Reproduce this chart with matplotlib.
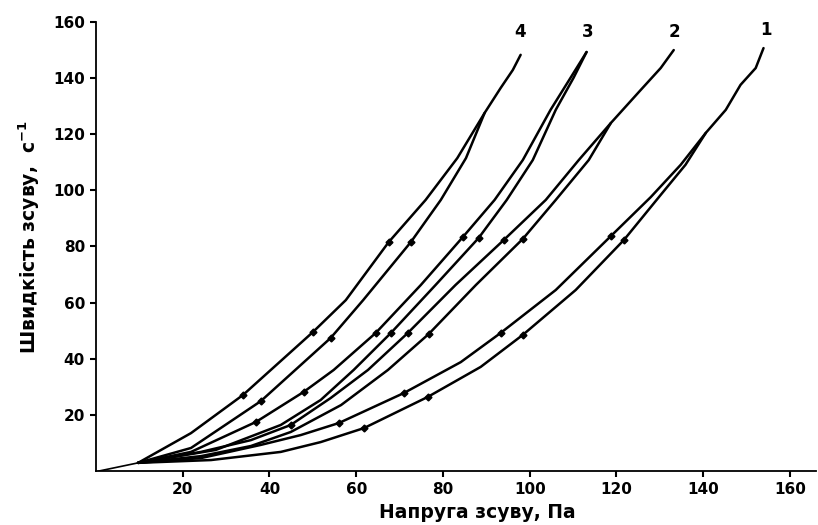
import matplotlib
matplotlib.use("Agg")
import matplotlib.pyplot as plt

plt.rcParams['font.family'] = ['DejaVu Sans']

# спільний початок усіх кривих
start_x = [0.7, 9.7]
start_y = [0.0, 2.9]

# крива 4
c4_up_x = [9.7, 21.9, 33.9, 50.0, 57.6, 67.5, 76.0, 83.3, 89.6, 93.3, 96.1, 97.9]
c4_up_y = [2.9, 13.5, 27.1, 49.5, 60.9, 81.6, 96.6, 111.5, 127.6, 136.5, 142.9, 148.3]
c4_dn_x = [9.7, 21.9, 38.0, 54.1, 61.6, 72.6, 79.5, 85.3, 89.6]
c4_dn_y = [2.9, 8.2, 24.9, 47.4, 60.9, 81.6, 96.6, 111.5, 127.6]

# крива 3
c3_up_x = [9.7, 21.9, 36.9, 47.9, 54.8, 64.5, 74.9, 84.6, 91.9, 98.4, 104.8, 109.4, 113.1]
c3_up_y = [2.9, 6.8, 17.5, 28.2, 36.0, 49.2, 66.3, 83.4, 96.6, 110.8, 128.7, 140.1, 149.3]
c3_dn_x = [9.7, 27.6, 42.6, 51.8, 59.4, 68.0, 78.3, 88.2, 94.7, 100.7, 106.0, 110.1, 113.1]
c3_dn_y = [2.9, 7.5, 16.4, 25.3, 36.0, 49.2, 66.3, 83.0, 96.6, 110.8, 128.7, 140.1, 149.3]

# крива 2
c2_up_x = [9.7, 24.2, 35.7, 44.9, 54.1, 62.7, 71.9, 82.9, 94.0, 103.7, 111.3, 118.7, 125.6, 130.2, 133.2]
c2_up_y = [2.9, 6.8, 11.0, 16.4, 26.0, 36.0, 49.2, 66.3, 82.3, 96.6, 110.8, 124.0, 135.8, 143.6, 150.0]
c2_dn_x = [9.7, 24.2, 35.7, 44.9, 56.5, 67.3, 76.7, 87.6, 98.4, 106.0, 113.6, 118.7]
c2_dn_y = [2.9, 5.3, 8.9, 13.9, 23.5, 36.0, 48.8, 66.3, 82.7, 96.6, 110.8, 124.0]

# крива 1
c1_up_x = [9.7, 24.2, 38.0, 47.2, 56.0, 71.0, 84.1, 93.3, 106.0, 118.7, 127.9, 134.8, 140.6,
           145.2, 148.6, 152.1, 153.9]
c1_up_y = [2.9, 4.6, 9.3, 12.8, 17.1, 27.8, 38.8, 49.2, 64.5, 83.7, 97.6, 109.1, 120.5,
           128.7, 137.6, 143.6, 150.7]
c1_dn_x = [9.7, 26.5, 42.6, 51.8, 61.8, 76.5, 88.7, 98.4, 110.6, 121.7, 130.2, 135.9, 140.6]
c1_dn_y = [2.9, 3.9, 6.8, 10.3, 15.3, 26.4, 37.1, 48.5, 64.5, 82.3, 98.4, 109.1, 120.5]

branches = [
    (c4_up_x, c4_up_y), (c4_dn_x, c4_dn_y),
    (c3_up_x, c3_up_y), (c3_dn_x, c3_dn_y),
    (c2_up_x, c2_up_y), (c2_dn_x, c2_dn_y),
    (c1_up_x, c1_up_y), (c1_dn_x, c1_dn_y),
]

# точки вимірювань (маленькі мітки на кривих)
mark_x = [33.9, 50.0, 67.5, 38.0, 54.1, 72.6, 36.9, 64.5, 84.6, 47.9, 68.0, 88.2,
          44.9, 71.9, 94.0, 76.7, 98.4, 56.0, 71.0, 93.3, 118.7, 61.8, 76.5, 98.4, 121.7]
mark_y = [27.1, 49.5, 81.6, 24.9, 47.4, 81.6, 17.5, 49.2, 83.4, 28.2, 49.2, 83.0,
          16.4, 49.2, 82.3, 48.8, 82.7, 17.1, 27.8, 49.2, 83.7, 15.3, 26.4, 48.5, 82.3]

curve_names = ['4', '3', '2', '1']
name_x = [97.7, 113.4, 133.4, 154.4]
name_y = [153.3, 153.3, 153.3, 153.8]

fig = plt.figure(figsize=(8.18, 5.25), dpi=100)
ax = fig.add_axes([96 / 818, 54 / 525, 720 / 818, 449 / 525])

ax.plot(start_x, start_y, color='black', lw=1.2)
for bx, by in branches:
    ax.plot(bx, by, color='black', lw=1.8, solid_joinstyle='round', solid_capstyle='round')
ax.plot(mark_x, mark_y, linestyle='none', marker='D', ms=3.5, color='black')

for name, nx, ny in zip(curve_names, name_x, name_y):
    ax.text(nx, ny, name, fontsize=12, fontweight='bold', ha='center', va='bottom')

ax.set_xlim(0, 166)
ax.set_ylim(0, 160)
ax.set_xticks([20, 40, 60, 80, 100, 120, 140, 160])
ax.set_yticks([20, 40, 60, 80, 100, 120, 140, 160])
ax.tick_params(direction='out', length=4, width=1.5, labelsize=11, pad=4)
for lab in ax.get_xticklabels() + ax.get_yticklabels():
    lab.set_fontweight('bold')

ax.spines['top'].set_visible(False)
ax.spines['right'].set_visible(False)
ax.spines['left'].set_linewidth(1.3)
ax.spines['bottom'].set_linewidth(1.3)

ax.set_xlabel('Напруга зсуву, Па', fontsize=13.5, fontweight='bold')
ax.set_ylabel('Швидкість зсуву,  с$^{\\mathbf{-1}}$', fontsize=13.5, fontweight='bold')
ax.xaxis.set_label_coords(0.53, -0.072)
ax.yaxis.set_label_coords(-0.075, 0.52)

fig.savefig('out.png', dpi=100)
